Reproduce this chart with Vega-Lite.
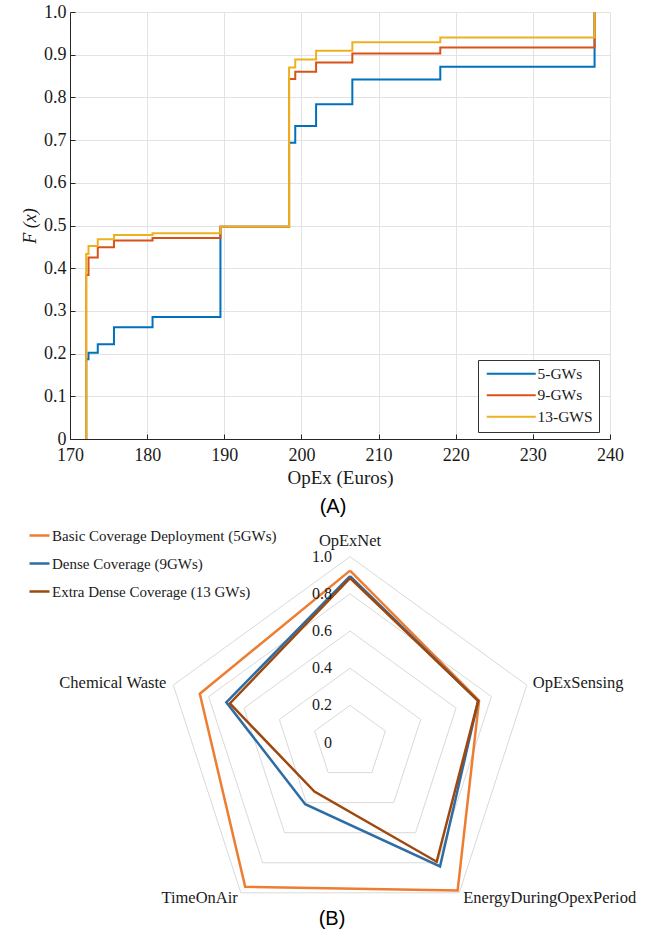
{
  "$schema": "https://vega.github.io/schema/vega-lite/v6.json",
  "padding": {"left": 21, "top": 3, "right": 0, "bottom": 0},
  "background": "white",
  "spacing": 2,
  "config": {"view": {"stroke": null}, "font": "Liberation Serif"},
  "resolve": {"scale": {"color": "independent"}, "legend": {"color": "independent"}},
  "datasets": {
    "ecdf": [
      {"s": "5-GWs", "opex": 172.1, "F": 0},
      {"s": "5-GWs", "opex": 172.1, "F": 0.187},
      {"s": "5-GWs", "opex": 172.4, "F": 0.202},
      {"s": "5-GWs", "opex": 173.6, "F": 0.222},
      {"s": "5-GWs", "opex": 175.7, "F": 0.262},
      {"s": "5-GWs", "opex": 180.7, "F": 0.286},
      {"s": "5-GWs", "opex": 189.5, "F": 0.497},
      {"s": "5-GWs", "opex": 198.4, "F": 0.694},
      {"s": "5-GWs", "opex": 199.2, "F": 0.733},
      {"s": "5-GWs", "opex": 201.9, "F": 0.784},
      {"s": "5-GWs", "opex": 206.6, "F": 0.842},
      {"s": "5-GWs", "opex": 218.0, "F": 0.872},
      {"s": "5-GWs", "opex": 238.0, "F": 1.0},
      {"s": "9-GWs", "opex": 172.1, "F": 0},
      {"s": "9-GWs", "opex": 172.1, "F": 0.384},
      {"s": "9-GWs", "opex": 172.4, "F": 0.425},
      {"s": "9-GWs", "opex": 173.6, "F": 0.449},
      {"s": "9-GWs", "opex": 175.7, "F": 0.465},
      {"s": "9-GWs", "opex": 180.7, "F": 0.471},
      {"s": "9-GWs", "opex": 189.5, "F": 0.497},
      {"s": "9-GWs", "opex": 198.4, "F": 0.843},
      {"s": "9-GWs", "opex": 199.2, "F": 0.860},
      {"s": "9-GWs", "opex": 201.9, "F": 0.882},
      {"s": "9-GWs", "opex": 206.6, "F": 0.903},
      {"s": "9-GWs", "opex": 218.0, "F": 0.917},
      {"s": "9-GWs", "opex": 238.0, "F": 1.0},
      {"s": "13-GWS", "opex": 172.1, "F": 0},
      {"s": "13-GWS", "opex": 172.1, "F": 0.433},
      {"s": "13-GWS", "opex": 172.4, "F": 0.452},
      {"s": "13-GWS", "opex": 173.6, "F": 0.468},
      {"s": "13-GWS", "opex": 175.7, "F": 0.478},
      {"s": "13-GWS", "opex": 180.7, "F": 0.482},
      {"s": "13-GWS", "opex": 189.5, "F": 0.497},
      {"s": "13-GWS", "opex": 198.4, "F": 0.870},
      {"s": "13-GWS", "opex": 199.2, "F": 0.889},
      {"s": "13-GWS", "opex": 201.9, "F": 0.909},
      {"s": "13-GWS", "opex": 206.6, "F": 0.929},
      {"s": "13-GWS", "opex": 218.0, "F": 0.940},
      {"s": "13-GWS", "opex": 238.0, "F": 1.0}
    ],
    "rings": [
      {"ring": 0.2, "k": [0, 1, 2, 3, 4, 5]},
      {"ring": 0.4, "k": [0, 1, 2, 3, 4, 5]},
      {"ring": 0.6, "k": [0, 1, 2, 3, 4, 5]},
      {"ring": 0.8, "k": [0, 1, 2, 3, 4, 5]},
      {"ring": 1.0, "k": [0, 1, 2, 3, 4, 5]}
    ],
    "ringLabels": [
      {"ring": 0, "label": "0"},
      {"ring": 0.2, "label": "0.2"},
      {"ring": 0.4, "label": "0.4"},
      {"ring": 0.6, "label": "0.6"},
      {"ring": 0.8, "label": "0.8"},
      {"ring": 1.0, "label": "1.0"}
    ],
    "axes": [
      {"name": "OpExNet", "k": 0},
      {"name": "OpExSensing", "k": 1},
      {"name": "EnergyDuringOpexPeriod", "k": 2},
      {"name": "TimeOnAir", "k": 3},
      {"name": "Chemical Waste", "k": 4}
    ],
    "radar": [
      {"series": "Basic Coverage Deployment (5GWs)", "k": 0, "value": 0.925},
      {"series": "Basic Coverage Deployment (5GWs)", "k": 1, "value": 0.73},
      {"series": "Basic Coverage Deployment (5GWs)", "k": 2, "value": 0.985},
      {"series": "Basic Coverage Deployment (5GWs)", "k": 3, "value": 0.96},
      {"series": "Basic Coverage Deployment (5GWs)", "k": 4, "value": 0.85},
      {"series": "Basic Coverage Deployment (5GWs)", "k": 5, "value": 0.925},
      {"series": "Dense Coverage (9GWs)", "k": 0, "value": 0.895},
      {"series": "Dense Coverage (9GWs)", "k": 1, "value": 0.725},
      {"series": "Dense Coverage (9GWs)", "k": 2, "value": 0.824},
      {"series": "Dense Coverage (9GWs)", "k": 3, "value": 0.41},
      {"series": "Dense Coverage (9GWs)", "k": 4, "value": 0.70},
      {"series": "Dense Coverage (9GWs)", "k": 5, "value": 0.895},
      {"series": "Extra Dense Coverage (13 GWs)", "k": 0, "value": 0.885},
      {"series": "Extra Dense Coverage (13 GWs)", "k": 1, "value": 0.725},
      {"series": "Extra Dense Coverage (13 GWs)", "k": 2, "value": 0.793},
      {"series": "Extra Dense Coverage (13 GWs)", "k": 3, "value": 0.326},
      {"series": "Extra Dense Coverage (13 GWs)", "k": 4, "value": 0.68},
      {"series": "Extra Dense Coverage (13 GWs)", "k": 5, "value": 0.885}
    ]
  },
  "vconcat": [
    {
      "width": 540,
      "height": 427,
      "data": {"name": "ecdf"},
      "title": {"text": "(A)", "orient": "bottom", "font": "Liberation Sans", "fontSize": 20, "fontWeight": "normal", "color": "#000", "offset": 10, "dx": -7},
      "mark": {"type": "line", "interpolate": "step-after", "strokeWidth": 2},
      "encoding": {
        "x": {
          "field": "opex", "type": "quantitative",
          "scale": {"domain": [170, 240], "nice": false, "zero": false},
          "axis": {
            "title": "OpEx (Euros)", "values": [170, 180, 190, 200, 210, 220, 230, 240],
            "grid": true, "gridColor": "#E3E3E3", "domainColor": "#262626", "tickColor": "#262626",
            "tickSize": -5, "labelPadding": 12, "labelFont": "Liberation Serif", "labelFontSize": 18,
            "labelColor": "#1a1a1a", "titleFont": "Liberation Serif", "titleFontSize": 19,
            "titleFontWeight": "normal", "titleColor": "#1a1a1a", "titlePadding": 4, "labelFlush": false
          }
        },
        "y": {
          "field": "F", "type": "quantitative",
          "scale": {"domain": [0, 1], "nice": false},
          "axis": {
            "title": "F (x)", "values": [0, 0.1, 0.2, 0.3, 0.4, 0.5, 0.6, 0.7, 0.8, 0.9, 1.0],
            "labelExpr": "datum.value == 0 ? '0' : format(datum.value, '.1f')",
            "grid": true, "gridColor": "#E3E3E3", "domainColor": "#262626", "tickColor": "#262626",
            "tickSize": -5, "labelPadding": 9, "labelFont": "Liberation Serif", "labelFontSize": 18,
            "labelColor": "#1a1a1a", "titleFont": "Liberation Serif", "titleFontSize": 18,
            "titleFontStyle": "italic", "titleFontWeight": "normal", "titleColor": "#1a1a1a",
            "titlePadding": 4, "labelFlush": false
          }
        },
        "order": {"field": "F"},
        "color": {
          "field": "s", "type": "nominal",
          "scale": {"domain": ["5-GWs", "9-GWs", "13-GWS"], "range": ["#0072BD", "#D95319", "#EDB120"]},
          "legend": {
            "title": null, "orient": "none", "legendX": 408, "legendY": 348,
            "symbolType": "M-1,0H8.8", "symbolSize": 100, "symbolStrokeWidth": 2,
            "labelFont": "Liberation Serif", "labelFontSize": 15.5, "labelColor": "#1a1a1a",
            "rowPadding": 4.5, "labelOffset": 38, "padding": 6, "labelLimit": 300,
            "strokeColor": "#333333", "fillColor": "white"
          }
        }
      }
    },
    {
      "width": 540,
      "height": 390,
      "title": {"text": "(B)", "orient": "bottom", "font": "Liberation Sans", "fontSize": 20, "fontWeight": "normal", "color": "#000", "offset": 0, "dx": -8},
      "layer": [
        {
          "data": {"name": "rings"},
          "transform": [
            {"flatten": ["k"]},
            {"calculate": "datum.ring * sin(datum.k * 2 * PI / 5)", "as": "px"},
            {"calculate": "datum.ring * cos(datum.k * 2 * PI / 5)", "as": "py"}
          ],
          "mark": {"type": "line", "stroke": "#D9D9D9", "strokeWidth": 1},
          "encoding": {
            "x": {"field": "px", "type": "quantitative", "scale": {"domain": [-1.507, 1.399], "nice": false, "zero": false}, "axis": null},
            "y": {"field": "py", "type": "quantitative", "scale": {"domain": [-0.896, 1.203], "nice": false, "zero": false}, "axis": null},
            "detail": {"field": "ring"},
            "order": {"field": "k"}
          }
        },
        {
          "data": {"name": "radar"},
          "transform": [
            {"calculate": "datum.value * sin(datum.k * 2 * PI / 5)", "as": "px"},
            {"calculate": "datum.value * cos(datum.k * 2 * PI / 5)", "as": "py"}
          ],
          "mark": {"type": "line", "strokeWidth": 2.5},
          "encoding": {
            "x": {"field": "px", "type": "quantitative", "scale": {"domain": [-1.507, 1.399], "nice": false, "zero": false}, "axis": null},
            "y": {"field": "py", "type": "quantitative", "scale": {"domain": [-0.896, 1.203], "nice": false, "zero": false}, "axis": null},
            "order": {"field": "k"},
            "color": {
              "field": "series", "type": "nominal",
              "scale": {"domain": ["Basic Coverage Deployment (5GWs)", "Dense Coverage (9GWs)", "Extra Dense Coverage (13 GWs)"], "range": ["#ED7D31", "#2E6DA4", "#9E480E"]},
              "legend": {
                "title": null, "orient": "none", "legendX": -42, "legendY": 5,
                "symbolType": "stroke", "symbolSize": 400, "symbolStrokeWidth": 2.5,
                "labelFont": "Liberation Serif", "labelFontSize": 15, "labelColor": "#1a1a1a",
                "rowPadding": 8, "labelOffset": 1, "padding": 0, "labelLimit": 400
              }
            }
          }
        },
        {
          "data": {"name": "ringLabels"},
          "mark": {"type": "text", "align": "right", "baseline": "middle", "dx": -18, "font": "Liberation Serif", "fontSize": 16, "color": "#1a1a1a"},
          "encoding": {
            "x": {"datum": 0, "type": "quantitative", "scale": {"domain": [-1.507, 1.399], "nice": false, "zero": false}, "axis": null},
            "y": {"field": "ring", "type": "quantitative", "scale": {"domain": [-0.896, 1.203], "nice": false, "zero": false}, "axis": null},
            "text": {"field": "label"}
          }
        },
        {
          "data": {"name": "axes"},
          "transform": [
            {"calculate": "sin(datum.k * 2 * PI / 5)", "as": "px"},
            {"calculate": "cos(datum.k * 2 * PI / 5)", "as": "py"}
          ],
          "mark": {
            "type": "text", "baseline": "middle", "font": "Liberation Serif", "fontSize": 16.5, "color": "#1a1a1a",
            "align": {"expr": "datum.k == 0 ? 'center' : (datum.k <= 2 ? 'left' : 'right')"},
            "dx": {"expr": "datum.k == 0 ? 0 : datum.k == 1 ? 6 : datum.k == 2 ? 4 : datum.k == 3 ? -3 : -7"},
            "dy": {"expr": "datum.k == 0 ? -16 : datum.k == 1 ? -2 : datum.k == 2 ? 5 : datum.k == 3 ? 5 : -2"}
          },
          "encoding": {
            "x": {"field": "px", "type": "quantitative", "scale": {"domain": [-1.507, 1.399], "nice": false, "zero": false}, "axis": null},
            "y": {"field": "py", "type": "quantitative", "scale": {"domain": [-0.896, 1.203], "nice": false, "zero": false}, "axis": null},
            "text": {"field": "name"}
          }
        }
      ]
    }
  ]
}
